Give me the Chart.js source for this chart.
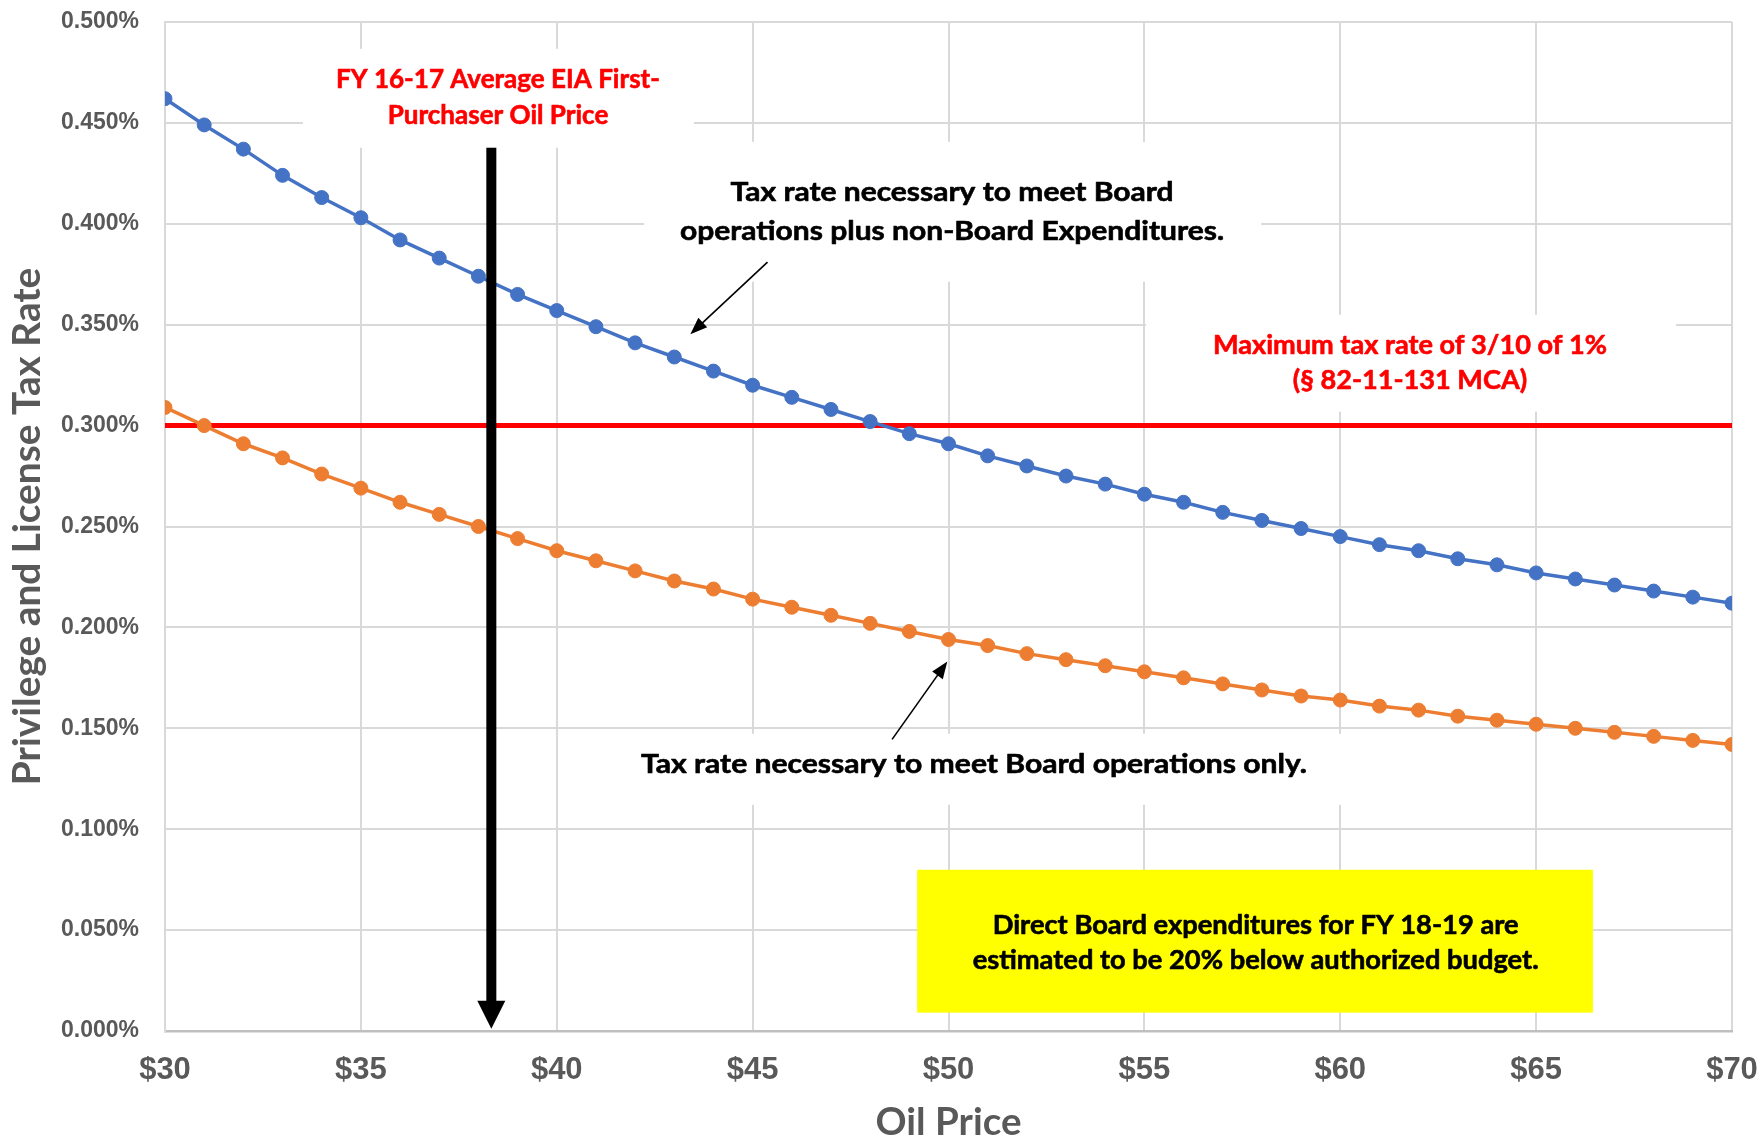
<!DOCTYPE html>
<html>
<head>
<meta charset="utf-8">
<script src="https://cdn.jsdelivr.net/npm/chart.js@4.4.1/dist/chart.umd.min.js"></script>
<style>
  html, body { margin: 0; padding: 0; background: #ffffff; }
  canvas { display: block; }
</style>
</head>
<body>
<canvas id="chart" width="1760" height="1139"></canvas>
<script>
// Oil price scenarios ($ per barrel)
const oilPrices = [30, 31, 32, 33, 34, 35, 36, 37, 38, 39, 40, 41, 42, 43, 44, 45, 46, 47, 48, 49, 50,
                   51, 52, 53, 54, 55, 56, 57, 58, 59, 60, 61, 62, 63, 64, 65, 66, 67, 68, 69, 70];

// Required privilege and license tax rate (%) : Board operations plus non-Board expenditures
const rateBoardPlusNonBoard = [0.462, 0.449, 0.437, 0.424, 0.413, 0.403, 0.392, 0.383, 0.374, 0.365, 0.357,
                               0.349, 0.341, 0.334, 0.327, 0.320, 0.314, 0.308, 0.302, 0.296, 0.291,
                               0.285, 0.280, 0.275, 0.271, 0.266, 0.262, 0.257, 0.253, 0.249, 0.245,
                               0.241, 0.238, 0.234, 0.231, 0.227, 0.224, 0.221, 0.218, 0.215, 0.212];

// Required tax rate (%) : Board operations only
const rateBoardOnly = [0.309, 0.300, 0.291, 0.284, 0.276, 0.269, 0.262, 0.256, 0.250, 0.244, 0.238,
                       0.233, 0.228, 0.223, 0.219, 0.214, 0.210, 0.206, 0.202, 0.198, 0.194,
                       0.191, 0.187, 0.184, 0.181, 0.178, 0.175, 0.172, 0.169, 0.166, 0.164,
                       0.161, 0.159, 0.156, 0.154, 0.152, 0.150, 0.148, 0.146, 0.144, 0.142];

// Statutory ceiling (%) and the FY 16-17 average first-purchaser price ($)
const maxStatutoryRate = 0.300;
const avgFirstPurchaserPrice = 38.33;

// Axis tick labels
const priceTickLabels = ['$30', '$35', '$40', '$45', '$50', '$55', '$60', '$65', '$70'];
const rateTickLabels = ['0.000%', '0.050%', '0.100%', '0.150%', '0.200%', '0.250%',
                        '0.300%', '0.350%', '0.400%', '0.450%', '0.500%'];

// Callout texts
const fyPriceNote = ['FY 16-17 Average EIA First-', 'Purchaser Oil Price'];
const upperCurveNote = ['Tax rate necessary to meet Board', 'operations plus non-Board Expenditures.'];
const maxRateNote = ['Maximum tax rate of 3/10 of 1%', '(\u00a7 82-11-131 MCA)'];
const lowerCurveNote = ['Tax rate necessary to meet Board operations only.'];
const budgetNote = ['Direct Board expenditures for FY 18-19 are', 'estimated to be 20% below authorized budget.'];

// ---------------------------------------------------------------------------
const NOTE_FONT = 'Lato, "Open Sans", sans-serif';
const NOTE_SIZE = 26;
const TITLE_FONT = 'Lato, "Open Sans", sans-serif';
const TICK_FONT = '"Liberation Sans", Arial, sans-serif';
const GREY_TEXT = '#595959';

const measureCtx = document.createElement('canvas').getContext('2d');
function widestLine(lines, size, family, weight) {
  measureCtx.font = `${weight} ${size}px ${family}`;
  return Math.max(...lines.map(l => measureCtx.measureText(l).width));
}
function fitSize(lines, targetWidth, family, weight) {
  return Math.round(1000 * targetWidth / widestLine(lines, 100, family, weight)) / 10;
}

const yTitleSize = fitSize(['Privilege and License Tax Rate'], 518, TITLE_FONT, 'bold');
const xTitleSize = fitSize(['Oil Price'], 146, TITLE_FONT, 'bold');

// Callout layout: anchors and boxes in data units (price, rate %)
const callouts = [
  { lines: fyPriceNote, color: '#ff0000', x: 38.50, y: 0.4627, gap: 36, width: 324,
    box: { x0: 33.52, x1: 43.50, y0: 0.4377, y1: 0.4867, fill: '#ffffff' } },
  { lines: upperCurveNote, color: '#000000', x: 50.09, y: 0.4056, gap: 39, width: 544,
    box: { x0: 42.23, x1: 57.98, y0: 0.3713, y1: 0.4406, fill: '#ffffff' },
    arrow: { from: [45.38, 0.3810], to: [43.41, 0.3453] } },
  { lines: maxRateNote, color: '#ff0000', x: 61.78, y: 0.3310, gap: 35.5, width: 394,
    box: { x0: 55.04, x1: 68.57, y0: 0.3069, y1: 0.3549, fill: '#ffffff' } },
  { lines: lowerCurveNote, color: '#000000', x: 50.65, y: 0.1322, gap: 0, width: 666,
    box: { x0: 41.10, x1: 60.25, y0: 0.1121, y1: 0.1473, fill: '#ffffff' },
    arrow: { from: [48.56, 0.1445], to: [49.97, 0.1831] } },
  { lines: budgetNote, color: '#000000', x: 57.84, y: 0.0438, gap: 35, width: 566,
    box: { x0: 49.20, x1: 66.45, y0: 0.0091, y1: 0.0799, fill: '#ffff00' } }
];
// horizontal condensing so the humanist face keeps a narrow, tall set
callouts.forEach(c => { c.sx = c.width / widestLine(c.lines, NOTE_SIZE, NOTE_FONT, 'bold'); });

function arrowHead(ctx, x0, y0, x1, y1, len, halfW) {
  const a = Math.atan2(y1 - y0, x1 - x0);
  const bx = x1 - len * Math.cos(a), by = y1 - len * Math.sin(a);
  ctx.beginPath();
  ctx.moveTo(x1, y1);
  ctx.lineTo(bx + halfW * Math.sin(a), by - halfW * Math.cos(a));
  ctx.lineTo(bx - halfW * Math.sin(a), by + halfW * Math.cos(a));
  ctx.closePath();
  ctx.fill();
}

const calloutPlugin = {
  id: 'callouts',
  beforeDatasetsDraw(chart) {
    const { ctx, scales: { x, y } } = chart;
    ctx.save();
    callouts.forEach(c => {
      const b = c.box;
      const px0 = x.getPixelForValue(b.x0), px1 = x.getPixelForValue(b.x1);
      const py0 = y.getPixelForValue(b.y1), py1 = y.getPixelForValue(b.y0);
      ctx.fillStyle = b.fill;
      ctx.fillRect(px0, py0, px1 - px0, py1 - py0);
    });
    ctx.restore();
  },
  afterDatasetsDraw(chart) {
    const { ctx, scales: { x, y } } = chart;
    // callout texts and pointer arrows
    callouts.forEach(c => {
      const cx = x.getPixelForValue(c.x);
      const cy = y.getPixelForValue(c.y);
      const n = c.lines.length;
      ctx.save();
      ctx.translate(cx, cy);
      ctx.scale(c.sx, 1);
      ctx.font = `bold ${NOTE_SIZE}px ${NOTE_FONT}`;
      ctx.fillStyle = c.color;
      ctx.strokeStyle = c.color;
      ctx.lineWidth = 0.6;
      ctx.lineJoin = 'round';
      ctx.textAlign = 'center';
      ctx.textBaseline = 'middle';
      c.lines.forEach((line, i) => {
        const dy = (i - (n - 1) / 2) * c.gap;
        ctx.fillText(line, 0, dy);
        ctx.strokeText(line, 0, dy);
      });
      ctx.restore();
      if (c.arrow) {
        const x0 = x.getPixelForValue(c.arrow.from[0]), y0 = y.getPixelForValue(c.arrow.from[1]);
        const x1 = x.getPixelForValue(c.arrow.to[0]), y1 = y.getPixelForValue(c.arrow.to[1]);
        const a = Math.atan2(y1 - y0, x1 - x0);
        ctx.save();
        ctx.strokeStyle = '#000000';
        ctx.fillStyle = '#000000';
        ctx.lineWidth = 1.6;
        ctx.beginPath();
        ctx.moveTo(x0, y0);
        ctx.lineTo(x1 - 10 * Math.cos(a), y1 - 10 * Math.sin(a));
        ctx.stroke();
        arrowHead(ctx, x0, y0, x1, y1, 17, 6.5);
        ctx.restore();
      }
    });
    // heavy arrow marking the FY 16-17 average price
    const ax = x.getPixelForValue(avgFirstPurchaserPrice);
    const aTop = y.getPixelForValue(0.4377);
    const aTip = y.getPixelForValue(0.0011);
    ctx.save();
    ctx.fillStyle = '#000000';
    ctx.fillRect(ax - 5, aTop, 10, aTip - aTop - 26);
    arrowHead(ctx, ax, aTop, ax, aTip, 28, 14);
    ctx.restore();
  }
};

const toPoints = (vals) => oilPrices.map((p, i) => ({ x: p, y: vals[i] }));

new Chart(document.getElementById('chart'), {
  type: 'line',
  data: {
    datasets: [
      {
        label: 'Board operations only',
        data: toPoints(rateBoardOnly),
        borderColor: '#ed7d31',
        backgroundColor: '#ed7d31',
        pointBackgroundColor: '#ed7d31',
        pointBorderColor: '#ed7d31',
        borderWidth: 3.5,
        pointRadius: 7,
        pointBorderWidth: 1,
        tension: 0,
        order: 1
      },
      {
        label: 'Board operations plus non-Board expenditures',
        data: toPoints(rateBoardPlusNonBoard),
        borderColor: '#4472c4',
        backgroundColor: '#4472c4',
        pointBackgroundColor: '#4472c4',
        pointBorderColor: '#4472c4',
        borderWidth: 3.5,
        pointRadius: 7,
        pointBorderWidth: 1,
        tension: 0,
        order: 2
      },
      {
        label: 'Maximum tax rate',
        data: [{ x: oilPrices[0], y: maxStatutoryRate }, { x: oilPrices[oilPrices.length - 1], y: maxStatutoryRate }],
        borderColor: '#ff0000',
        borderWidth: 5,
        pointRadius: 0,
        order: 3
      }
    ]
  },
  options: {
    responsive: false,
    devicePixelRatio: 1,
    animation: false,
    layout: { padding: { top: 22, right: 28, bottom: 0, left: 0 } },
    plugins: {
      legend: { display: false },
      tooltip: { enabled: false }
    },
    scales: {
      x: {
        type: 'linear',
        min: 30,
        max: 70,
        afterFit(scale) {
          scale.height = 108;
          scale.paddingLeft = 0;
          scale.paddingRight = 0;
        },
        ticks: {
          stepSize: 5,
          padding: 21,
          color: GREY_TEXT,
          font: { family: TICK_FONT, size: 31, weight: 'bold' },
          callback: (v, i) => priceTickLabels[i]
        },
        grid: { color: '#d9d9d9', lineWidth: 2, drawTicks: false },
        border: { color: '#bfbfbf', width: 2.5 },
        title: {
          display: true,
          text: 'Oil Price',
          color: GREY_TEXT,
          font: { family: TITLE_FONT, size: xTitleSize, weight: 'bold', lineHeight: 0.9 },
          padding: { top: 0, bottom: -1 }
        }
      },
      y: {
        min: 0,
        max: 0.5,
        afterFit(scale) {
          scale.width = 165;
          scale.paddingTop = 0;
          scale.paddingBottom = 0;
        },
        ticks: {
          stepSize: 0.05,
          padding: 26,
          color: GREY_TEXT,
          font: { family: TICK_FONT, size: 23, weight: 'bold' },
          callback: (v, i) => rateTickLabels[i]
        },
        grid: { color: '#d9d9d9', lineWidth: 2, drawTicks: false },
        border: { color: '#d9d9d9', width: 2 },
        title: {
          display: true,
          text: 'Privilege and License Tax Rate',
          color: GREY_TEXT,
          font: { family: TITLE_FONT, size: yTitleSize, weight: 'bold', lineHeight: 1 },
          padding: { top: Math.max(0, 27 - yTitleSize / 2), bottom: 0 }
        }
      }
    }
  },
  plugins: [calloutPlugin]
});
</script>
</body>
</html>
